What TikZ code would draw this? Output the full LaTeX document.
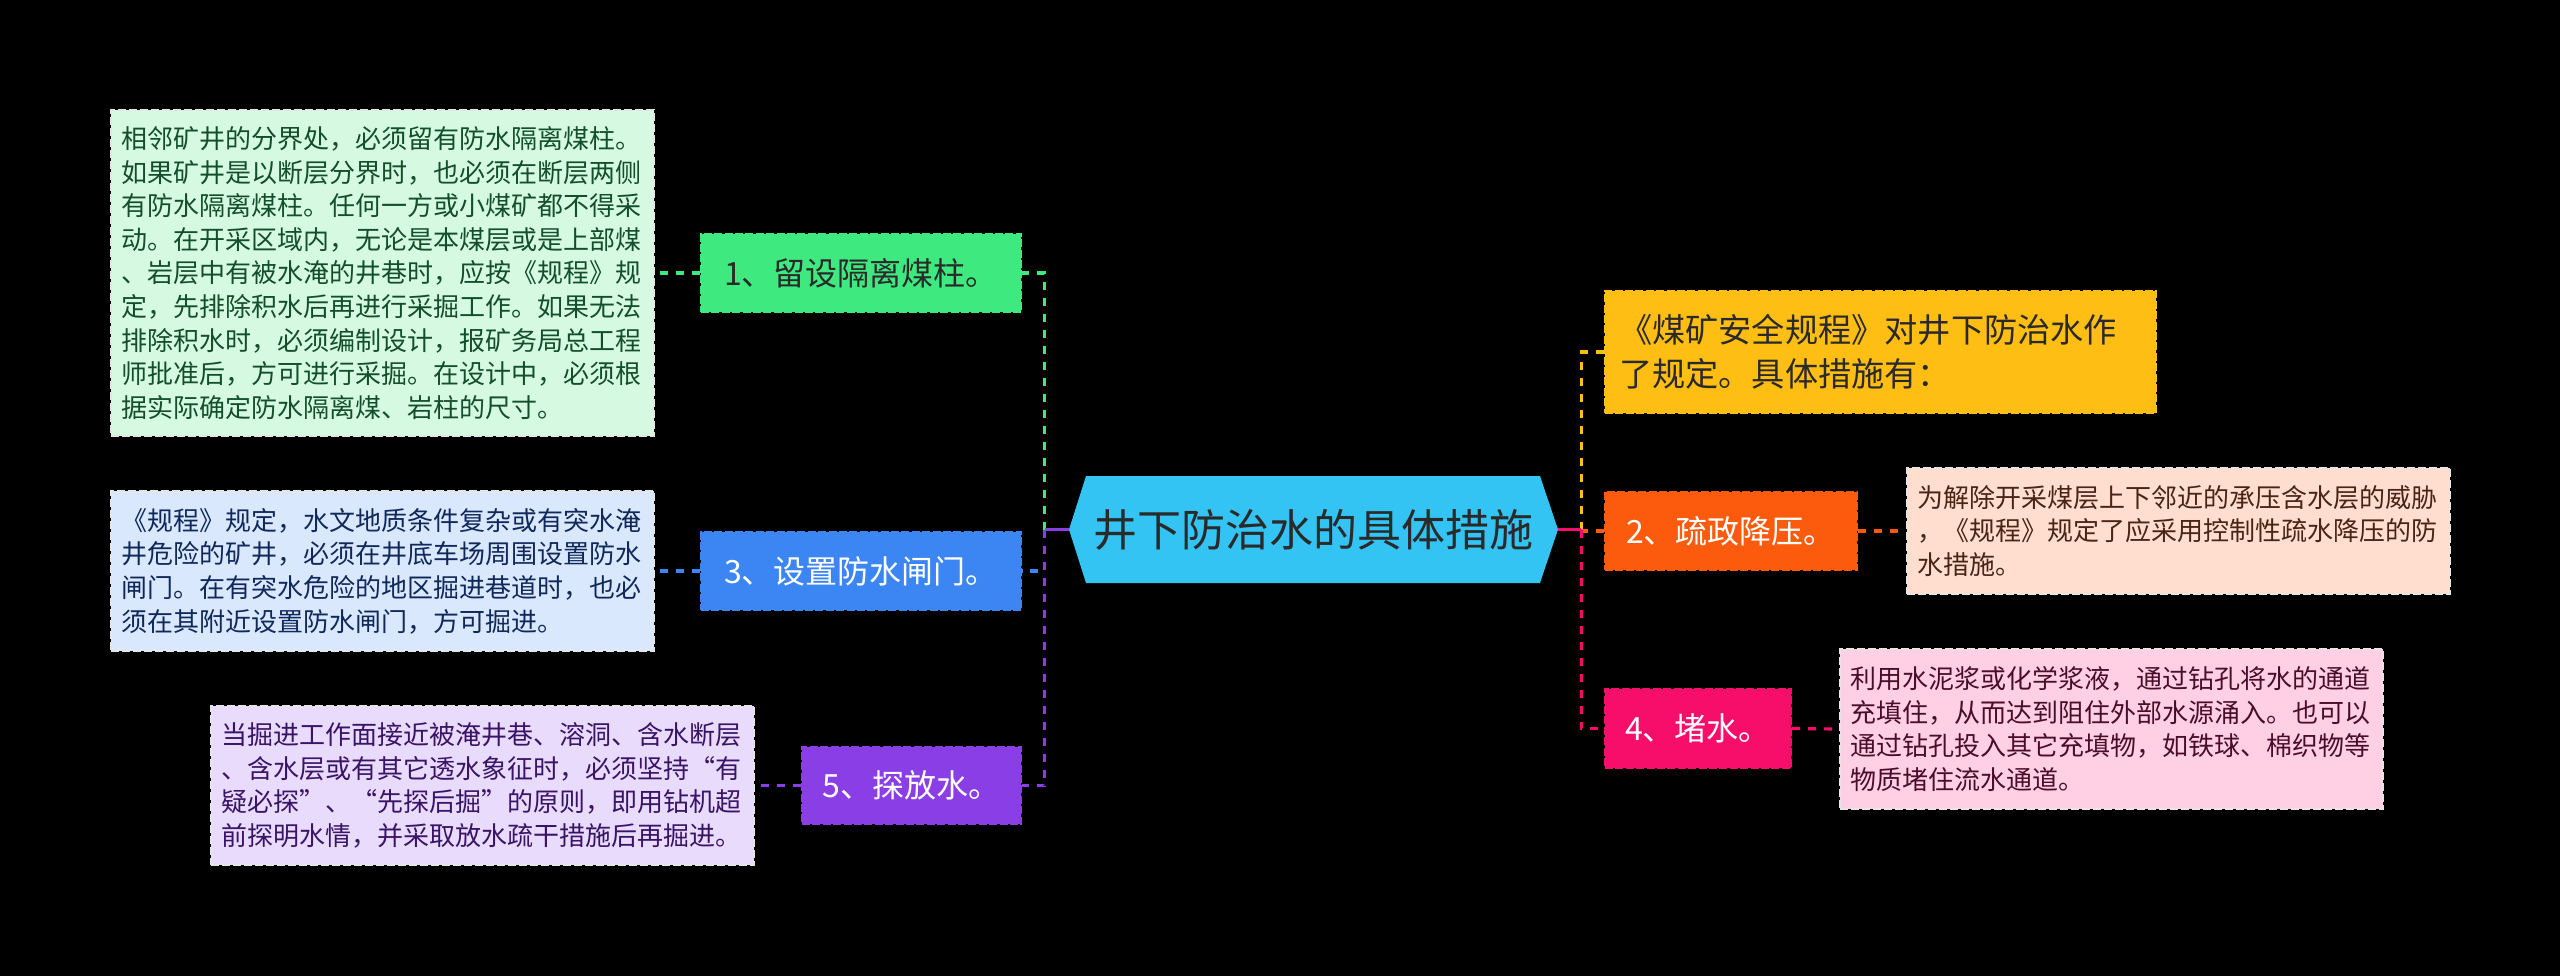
\documentclass[tikz,border=0pt]{standalone}
\usepackage{fontspec}
\setmainfont{Noto Sans CJK SC}
\newcommand\fwq[1]{{\addfontfeatures{CharacterWidth=Full}#1}}
\definecolor{cgreen}{HTML}{3EEA80}
\definecolor{cgreenL}{HTML}{D6F9E2}
\definecolor{cgreenT}{HTML}{124F2A}
\definecolor{cblue}{HTML}{3B86F2}
\definecolor{cblueL}{HTML}{D9E8FD}
\definecolor{cblueT}{HTML}{10295A}
\definecolor{cpurple}{HTML}{8A3FE6}
\definecolor{cpurpleL}{HTML}{E8DBFB}
\definecolor{cpurpleT}{HTML}{3A1466}
\definecolor{cyellow}{HTML}{FFBE14}
\definecolor{corange}{HTML}{FC5A0C}
\definecolor{corangeL}{HTML}{FFDECF}
\definecolor{corangeT}{HTML}{4A2414}
\definecolor{cpink}{HTML}{F70E6B}
\definecolor{cpinkL}{HTML}{FFD0E4}
\definecolor{cpinkT}{HTML}{4A0E2A}
\definecolor{ccenter}{HTML}{33C4F4}
\definecolor{cdark}{HTML}{2A2A2A}
\tikzset{
  labelbox/.style={rectangle, inner sep=0pt, minimum height=39pt,
    font=\fontsize{16}{20}\selectfont, line width=1pt, dash pattern=on 4pt off 1.2pt},
  detailbox/.style={rectangle, inner xsep=5.25pt, inner ysep=0pt, text width=261pt,
    align=left, font=\fontsize{13}{16.8}\selectfont,
    draw=white!90!black, line width=1pt, dash pattern=on 4pt off 1.5pt},
  conn/.style={line width=1.6pt, dash pattern=on 4pt off 4pt},
  trunk/.style={line width=1.6pt}
}
\begin{document}
\begin{tikzpicture}[x=0.5pt,y=-0.5pt]
\useasboundingbox (0,0) rectangle (2560,976);
\fill[black] (0,0) rectangle (2560,976);

% central hexagon
\fill[ccenter] (1069,529.5) -- (1086,476) -- (1540,476) -- (1558,529.5) -- (1540,583) -- (1086,583) -- cycle;
\node[inner sep=0pt, minimum width=244.5pt, minimum height=53.5pt, text=cdark,
  font=\fontsize{22}{26}\selectfont] (cn) at (1313.5,529.5) {井下防治水的具体措施};
\coordinate (lj) at ([xshift=-12pt]cn.west);
\coordinate (rj) at ([xshift=11.5pt]cn.east);

% left branch boxes
\node[labelbox, minimum width=160pt, fill=cgreen, draw=cgreen, text=cdark] (b1) at (861,273) {1、留设隔离煤柱。};
\node[labelbox, minimum width=160pt, fill=cblue, draw=cblue, text=white] (b3) at (861,571) {3、设置防水闸门。};
\node[labelbox, minimum width=109.5pt, minimum height=38.5pt, fill=cpurple, draw=cpurple, text=white] (b5) at (911.5,785.5) {5、探放水。};

% right branch boxes
\node[labelbox, minimum width=275.5pt, minimum height=61pt, inner xsep=7pt, text width=261.5pt,
  align=left, font=\fontsize{16.6}{22}\selectfont, fill=cyellow, draw=cyellow, text=cdark] (by) at (1880.5,352)
  {《煤矿安全规程》对井下防治水作\\了规定。具体措施有：};
\node[labelbox, minimum width=126pt, fill=corange, draw=corange, text=white] (b2) at (1731,531) {2、疏政降压。};
\node[labelbox, minimum width=93pt, minimum height=39.5pt, fill=cpink, draw=cpink, text=white] (b4) at (1698,728.5) {4、堵水。};

% detail boxes
\node[detailbox, minimum height=163pt, fill=cgreenL, text=cgreenT] (gd) at (382.5,273) {%
相邻矿井的分界处，必须留有防水隔离煤柱。\\
如果矿井是以断层分界时，也必须在断层两侧\\
有防水隔离煤柱。任何一方或小煤矿都不得采\\
动。在开采区域内，无论是本煤层或是上部煤\\
、岩层中有被水淹的井巷时，应按《规程》规\\
定，先排除积水后再进行采掘工作。如果无法\\
排除积水时，必须编制设计，报矿务局总工程\\
师批准后，方可进行采掘。在设计中，必须根\\
据实际确定防水隔离煤、岩柱的尺寸。};
\node[detailbox, minimum height=80pt, fill=cblueL, text=cblueT] (bd) at (382.5,571) {%
《规程》规定，水文地质条件复杂或有突水淹\\
井危险的矿井，必须在井底车场周围设置防水\\
闸门。在有突水危险的地区掘进巷道时，也必\\
须在其附近设置防水闸门，方可掘进。};
\node[detailbox, minimum height=79.5pt, fill=cpurpleL, text=cpurpleT] (pd) at (482,785.5) {%
当掘进工作面接近被淹井巷、溶洞、含水断层\\
、含水层或有其它透水象征时，必须坚持\fwq{“}有\\
疑必探\fwq{”}、\fwq{“}先探后掘\fwq{”}的原则，即用钻机超\\
前探明水情，并采取放水疏干措施后再掘进。};
\node[detailbox, minimum height=63pt, fill=corangeL, text=corangeT] (od) at (2178,531) {%
为解除开采煤层上下邻近的承压含水层的威胁\\
，《规程》规定了应采用控制性疏水降压的防\\
水措施。};
\node[detailbox, minimum height=80pt, fill=cpinkL, text=cpinkT] (md) at (2111,729) {%
利用水泥浆或化学浆液，通过钻孔将水的通道\\
充填住，从而达到阻住外部水源涌入。也可以\\
通过钻孔投入其它充填物，如铁球、棉织物等\\
物质堵住流水通道。};

% connectors left
\draw[trunk, cgreen] (cn.west) -- (lj);
\draw[conn, cgreen] (lj) |- (b1.east);
\draw[trunk, cblue] (cn.west) -- (lj);
\draw[conn, cblue] (lj) |- (b3.east);
\draw[trunk, cpurple] (cn.west) -- (lj);
\draw[conn, cpurple] (lj) |- (b5.east);
% connectors right
\draw[trunk, cyellow] (cn.east) -- (rj);
\draw[conn, cyellow] (rj) |- (by.west);
\draw[trunk, corange] (cn.east) -- (rj);
\draw[conn, corange] (rj) |- (b2.west);
\draw[trunk, cpink] (cn.east) -- (rj);
\draw[conn, cpink] (rj) |- (b4.west);
% detail connectors
\draw[conn, cgreen] (b1.west) -- (gd.east);
\draw[conn, cblue] (b3.west) -- (bd.east);
\draw[conn, cpurple] (b5.west) -- (pd.east);
\draw[conn, corange] (b2.east) -- (od.west);
\draw[conn, cpink] (b4.east) -- (md.west);
\end{tikzpicture}
\end{document}
